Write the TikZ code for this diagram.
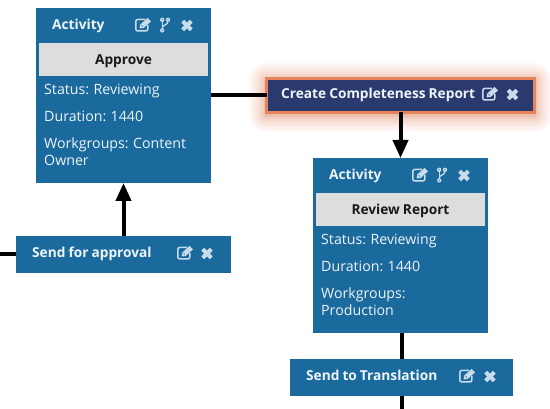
\documentclass[tikz,border=0pt]{standalone}
\usepackage{fontspec}
\setmainfont[WordSpace=0.85]{Open Sans}
\usetikzlibrary{arrows.meta}
\definecolor{boxblue}{HTML}{1A6A9E}
\definecolor{navy}{HTML}{2A3A6E}
\definecolor{glowc}{HTML}{E8845A}
\definecolor{graybar}{HTML}{DDDDDD}
\definecolor{icon}{HTML}{C9DCE9}
\definecolor{txt}{HTML}{EEF4F8}
\tikzset{
  x=1pt,y=-1pt,
  panel/.style={fill=boxblue,draw=none,inner sep=0pt,outer sep=0pt,minimum width=175pt,minimum height=175pt},
  bar/.style={fill=graybar,draw=none,inner sep=0pt,outer sep=0pt,minimum width=169pt,minimum height=33pt},
  barlabel/.style={font=\fontsize{13.7}{15}\selectfont\bfseries,text=black!90,inner sep=0pt,anchor=base},
  head/.style={font=\fontsize{13.7}{15}\selectfont\bfseries,text=txt,inner sep=0pt,anchor=base west},
  info/.style={font=\fontsize{14.2}{15}\selectfont,text=txt,inner sep=0pt,anchor=base west},
  strip/.style={fill=boxblue,draw=none,inner sep=0pt,outer sep=0pt,minimum height=37pt},
  link/.style={line width=4pt,draw=black},
  tolink/.style={link,-{Triangle[length=18pt,width=15pt]}},
  editicon/.pic={
    \draw[icon,line width=1.5pt,rounded corners=2pt] (10,-5.5) -- (0.8,-5.5) -- (0.8,6) -- (12.8,6) -- (12.8,0);
    \fill[icon] (4.6,3.4) -- (5.2,-0.4) -- (12.5,-7) -- (16,-3.6) -- (8.6,3) -- cycle;
    \fill[boxblue] (6.4,0.4) -- (7.6,1.7) -- (8.0,1.3) -- (6.8,0) -- cycle;
  },
  branchicon/.pic={
    \draw[icon,line width=1.3pt] (2.2,-4.5) -- (2.2,4.5);
    \draw[icon,line width=1.3pt] (8,-4) .. controls (8,0.5) and (2.6,-0.5) .. (2.2,3);
    \fill[icon,even odd rule] (2.2,-5.2) circle (2.2) (2.2,-5.2) circle (0.9);
    \fill[icon,even odd rule] (2.2,5.4) circle (2.2) (2.2,5.4) circle (0.9);
    \fill[icon,even odd rule] (8,-5.2) circle (2.2) (8,-5.2) circle (0.9);
  },
  closeicon/.pic={
    \draw[icon,line width=4pt] (-4.3,-4.3) -- (4.3,4.3) (-4.3,4.3) -- (4.3,-4.3);
  },
}
\begin{document}
\begin{tikzpicture}
\useasboundingbox (0,0) rectangle (550,409);
\fill[white] (0,0) rectangle (550,409);
% glow
\foreach \g in {1,...,18}{
  \pgfmathsetmacro{\o}{0.05*\g*\g}
  \fill[glowc,opacity=0.035,rounded corners=\o pt+1pt] (265-\o,77-\o+2) rectangle (536+\o,114+\o+2);
}
\coordinate (leftend) at (0,254.5);
\coordinate (bottomend) at (401.5,409);
% activity 1
\node[panel] (act1) at (123.5,95.5) {};
\node[bar] (bar1) at (123.5,59.5) {};
% create
\node[fill=navy,draw=glowc,line width=3pt,inner sep=0pt,outer sep=0pt,minimum width=268pt,minimum height=34pt] (create) at (400.5,95.5) {};
% activity 2
\node[panel] (act2) at (400.5,245.5) {};
\node[bar] (bar2) at (400.5,209.5) {};
% strips
\node[strip,minimum width=215pt] (approval) at (123.5,254.5) {};
\node[strip,minimum width=223pt] (translation) at (401.5,377.5) {};
% connectors
\draw[link] (act1.east) -- (create.west);
\draw[tolink] (create.south) -- (act2.north);
\draw[tolink] (approval.north) -- (act1.south);
\draw[link] (leftend) -- (approval.west);
\draw[link] (translation.north |- act2.south) -- (translation.north);
\draw[link] (translation.south) -- (bottomend);
% text panel 1
\node[head] (h1) at (52,30) {Activity};
\node[barlabel] (l1) at (123.5,65) {Approve};
\node[info] (s1) at (44,95) {Status: Reviewing};
\node[info] (d1) at (44,122) {Duration: 1440};
\node[info] (w1) at (44,149) {Workgroups: Content};
\node[info] (o1) at (44,166) {Owner};
\pic at (135,25) {editicon};
\pic at (160,25) {branchicon};
\pic at (187,25.5) {closeicon};
% text panel 2
\node[head] (h2) at (329,180) {Activity};
\node[barlabel] (l2) at (400.5,215) {Review Report};
\node[info] (s2) at (321,245) {Status: Reviewing};
\node[info] (d2) at (321,272) {Duration: 1440};
\node[info] (w2) at (321,299) {Workgroups:};
\node[info] (o2) at (321,316) {Production};
\pic at (412,175) {editicon};
\pic at (437,175) {branchicon};
\pic at (464,175.5) {closeicon};
% strip text
\node[head] (t1) at (281,99) {Create Completeness Report};
\pic at (482,94) {editicon};
\pic at (512.5,94.5) {closeicon};
\node[head] (t2) at (32,258) {Send for approval};
\pic at (177,253) {editicon};
\pic at (207,253.5) {closeicon};
\node[head] (t3) at (306,381) {Send to Translation};
\pic at (459,376) {editicon};
\pic at (490,376.5) {closeicon};
\end{tikzpicture}
\end{document}
